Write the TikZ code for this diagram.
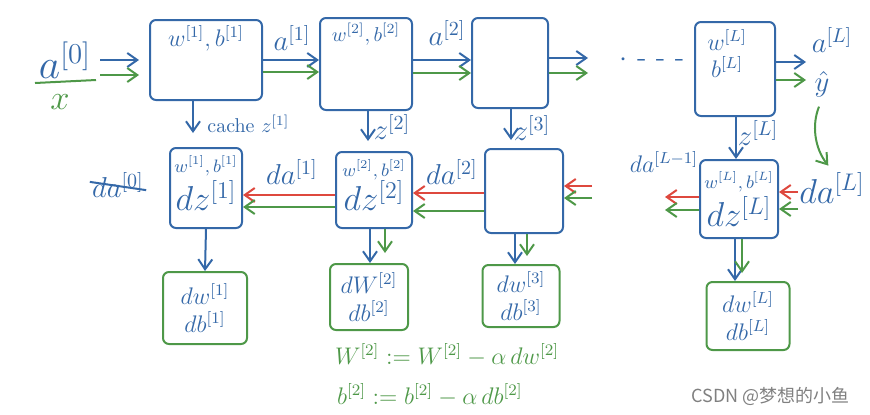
\documentclass[tikz,border=0pt]{standalone}
\usepackage{amsmath,amssymb}
\usepackage{fontspec}
\newfontfamily\cjk{Noto Sans CJK SC}
\usetikzlibrary{positioning,arrows.meta}
\definecolor{hblue}{RGB}{52,104,168}
\definecolor{hgreen}{RGB}{78,152,72}
\definecolor{hred}{RGB}{222,72,62}

\begin{document}
\begin{tikzpicture}[x=0.5pt, y=-0.5pt,
    box/.style={draw=hblue, line width=1pt, rounded corners=3pt, inner sep=0pt},
    gbox/.style={draw=hgreen, line width=1pt, rounded corners=3pt, inner sep=0pt, align=center, text=hblue, font=\large},
    lbl/.style={text=hblue, font=\normalsize, inner sep=1pt},
    slbl/.style={text=hblue, font=\small, inner sep=1pt},
    big/.style={text=hblue, font=\Large, inner sep=1pt},
    barrow/.style={->, >={Straight Barb[length=5pt,width=7pt]}, draw=hblue, line width=1pt},
    garrow/.style={barrow, draw=hgreen},
    rarrow/.style={barrow, draw=hred},
]
\useasboundingbox (0,0) rectangle (870,414);

% forward pass
\node[box, minimum width=56pt, minimum height=40pt] (f1) at (206,60) {};
\node[box, minimum width=46pt, minimum height=46pt] (f2) at (366,64) {};
\node[box, minimum width=38pt, minimum height=45pt] (f3) at (510,63) {};
\node[box, minimum width=40pt, minimum height=47pt] (fL) at (735,69) {};

\node[lbl, font=\large, below=2pt of f1.north] (f1t) {$w^{[1]},b^{[1]}$};
\node[lbl, below=2pt of f2.north] (f2t) {$w^{[2]},b^{[2]}$};
\node[lbl, font=\large, below=3pt of fL.north, xshift=-4pt] (fLw) {$w^{[L]}$};
\node[lbl, font=\large, below=1pt of fLw] (fLb) {$b^{[L]}$};

% input
\node[text=hblue, font=\huge] (a0) at (65,60) {$a^{[0]}$};
\node[text=hgreen, font=\LARGE] (x0) at (60,102) {$x$};
\coordinate (bar1) at (35,83);
\coordinate (bar2) at (96,80);
\draw[hgreen, line width=1pt] (bar1) -- (bar2);

\coordinate (in1) at (100,60);
\coordinate (in2) at (100,75);
\draw[barrow, shorten >=5pt] (in1) -- (in1 -| f1.west);
\draw[garrow, shorten >=5pt] (in2) -- (in2 -| f1.west);

\draw[barrow] (f1.east) -- (f1.east -| f2.west);
\draw[garrow] ([yshift=-6pt]f1.east) -- ([yshift=-6pt]f1.east -| f2.west);
\draw[barrow] ([yshift=2pt]f2.east) -- ([yshift=2pt]f2.east -| f3.west);
\draw[garrow] ([yshift=-4.5pt]f2.east) -- ([yshift=-4.5pt]f2.east -| f3.west);

\coordinate (o3b) at (588,58);
\coordinate (o3g) at (588,73);
\draw[barrow] (f3.east |- o3b) -- (o3b);
\draw[garrow] (f3.east |- o3g) -- (o3g);

\node[text=hblue, font=\Large] (dots) at (652,60) {$\cdot$\ - - -};

\coordinate (oLb) at (806,62);
\coordinate (oLg) at (806,80);
\draw[barrow] (fL.east |- oLb) -- (oLb);
\draw[garrow] (fL.east |- oLg) -- (oLg);

\node[big] (a1) at (292,38) {$a^{[1]}$};
\node[big] (a2) at (447,33) {$a^{[2]}$};
\node[big] (aL) at (832,40) {$a^{[L]}$};
\node[big] (yhat) at (822,84) {$\hat{y}$};

% backward pass
\node[box, minimum width=36pt, minimum height=40pt] (b1) at (206,188) {};
\node[box, minimum width=38pt, minimum height=38pt] (b2) at (374,190) {};
\node[box, minimum width=39pt, minimum height=42pt] (b3) at (524,191) {};
\node[box, minimum width=39pt, minimum height=39pt] (bL) at (739,199) {};

\node[slbl, below=3pt of b1.north] (b1t) {$w^{[1]},b^{[1]}$};
\node[big, font=\LARGE, below=0pt of b1t] (b1z) {$dz^{[1]}$};
\node[slbl, below=3pt of b2.north] (b2t) {$w^{[2]},b^{[2]}$};
\node[big, font=\LARGE, below=-2pt of b2t] (b2z) {$dz^{[2]}$};
\node[slbl, below=5pt of bL.north] (bLt) {$w^{[L]},b^{[L]}$};
\node[big, font=\LARGE, below=0pt of bLt] (bLz) {$dz^{[L]}$};

% caches
\draw[barrow, shorten >=7pt] ([xshift=-6.5pt]f1.south) -- ([xshift=-6.5pt]f1.south |- b1.north);
\draw[barrow, shorten >=5pt] ([xshift=1pt]f2.south) -- ([xshift=1pt]f2.south |- b2.north);
\draw[barrow, shorten >=4pt] ([xshift=0.5pt]f3.south) -- ([xshift=0.5pt]f3.south |- b3.north);
\draw[barrow] ([xshift=0.5pt]fL.south) -- ([xshift=0.5pt]fL.south |- bL.north);

\node[lbl, anchor=west] (c1) at (205,124) {cache $z^{[1]}$};
\node[lbl, font=\Large] (z2) at (392,127) {$z^{[2]}$};
\node[lbl, font=\Large] (z3) at (532,128) {$z^{[3]}$};
\node[lbl, font=\Large] (zL) at (758,133) {$z^{[L]}$};

% da arrows
\draw[rarrow] ([yshift=-2.5pt]b2.west) -- ([yshift=-2.5pt]b2.west -| b1.east);
\draw[garrow] ([yshift=-8.5pt]b2.west) -- ([yshift=-8.5pt]b2.west -| b1.east);
\draw[rarrow] ([yshift=-1pt]b3.west) -- ([yshift=-1pt]b3.west -| b2.east);
\draw[garrow] ([yshift=-10pt]b3.west) -- ([yshift=-10pt]b3.west -| b2.east);

\coordinate (i3r) at (592,186);
\coordinate (i3g) at (592,198);
\draw[rarrow] (i3r) -- (i3r -| b3.east);
\draw[garrow] (i3g) -- (i3g -| b3.east);

\coordinate (oLr) at (665,197);
\coordinate (oLg2) at (665,210);
\draw[rarrow] (bL.west |- oLr) -- (oLr);
\draw[garrow] (bL.west |- oLg2) -- (oLg2);

\coordinate (iLr) at (798,192);
\coordinate (iLg) at (798,209);
\draw[rarrow] (iLr) -- (iLr -| bL.east);
\draw[garrow] (iLg) -- (iLg -| bL.east);

\node[big] (da1) at (292,172) {$da^{[1]}$};
\node[big] (da2) at (452,172) {$da^{[2]}$};
\node[lbl, font=\large] (daLm) at (664,162) {$da^{[L-1]}$};
\node[big, font=\LARGE] (daL) at (832,188) {$da^{[L]}$};

\node[big] (da0) at (118,185) {$da^{[0]}$};
\draw[hblue, line width=1pt] ([yshift=-6pt]da0.north west) -- ([yshift=5pt]da0.south east);

\draw[garrow, shorten <=4pt, shorten >=3pt] (yhat.south) to[bend right=30] (daL.north);

% gradients
\node[gbox, minimum width=42pt, minimum height=36pt] (g1) at (205,308) {$dw^{[1]}$\\$db^{[1]}$};
\node[gbox, minimum width=39pt, minimum height=33pt] (g2) at (369,297) {$dW^{[2]}$\\$db^{[2]}$};
\node[gbox, minimum width=38.5pt, minimum height=31pt] (g3) at (521,296) {$dw^{[3]}$\\$db^{[3]}$};
\node[gbox, minimum width=41.5pt, minimum height=34pt] (gL) at (748,316) {$dw^{[L]}$\\$db^{[L]}$};

\draw[barrow] (b1.south) -- (g1.north);
\draw[barrow] ([xshift=-2pt]b2.south) -- ([xshift=-2pt]b2.south |- g2.north);
\draw[garrow, shorten >=5pt] ([xshift=5.5pt]b2.south) -- ([xshift=5.5pt]b2.south |- g2.north);
\draw[barrow] ([xshift=-4.5pt]b3.south) -- ([xshift=-4.5pt]b3.south |- g3.north);
\draw[garrow, shorten >=4pt] ([xshift=1.5pt]b3.south) -- ([xshift=1.5pt]b3.south |- g3.north);
\draw[barrow] ([xshift=-2pt]bL.south) -- ([xshift=-2pt]bL.south |- gL.north);
\draw[garrow, shorten >=4pt] ([xshift=1.5pt]bL.south) -- ([xshift=1.5pt]bL.south |- gL.north);

% update
\node[text=hgreen, font=\large, anchor=west] (upw) at (328,355) {$W^{[2]} := W^{[2]} - \alpha\, dw^{[2]}$};
\node[text=hgreen, font=\large, anchor=west] (upb) at (330,395) {$b^{[2]} := b^{[2]} - \alpha\, db^{[2]}$};

\node[text=gray, font=\cjk\fontsize{9}{11}\selectfont, anchor=east] (wm) at (857,396) {CSDN @梦想的小鱼};

\end{tikzpicture}
\end{document}
